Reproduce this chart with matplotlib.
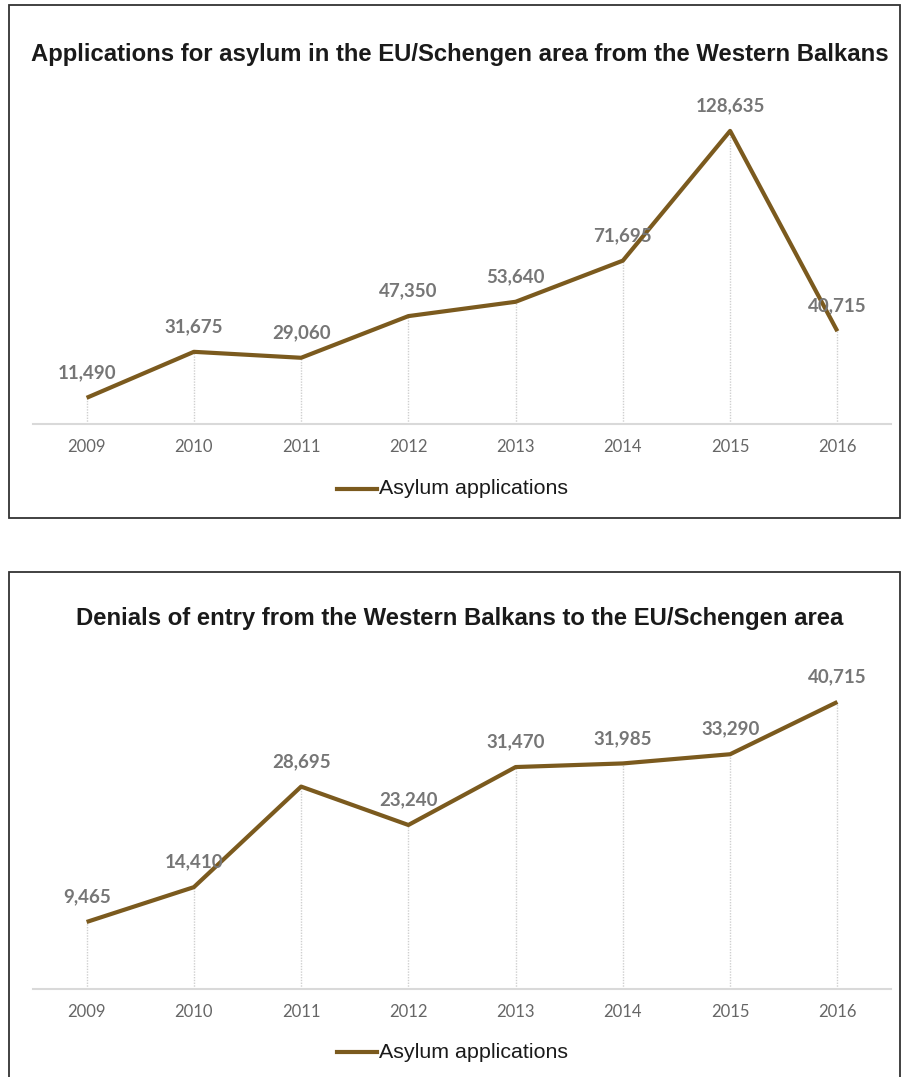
import matplotlib
matplotlib.use("Agg")
import matplotlib.pyplot as plt
from matplotlib.patches import Rectangle
from matplotlib.lines import Line2D

years = ["2009", "2010", "2011", "2012", "2013", "2014", "2015", "2016"]
asylum = [11490, 31675, 29060, 47350, 53640, 71695, 128635, 40715]
denials = [9465, 14410, 28695, 23240, 31470, 31985, 33290, 40715]
titles = ["Applications for asylum in the EU/Schengen area from the Western Balkans",
          "Denials of entry from the Western Balkans to the EU/Schengen area"]
legend_label = "Asylum applications"
ymaxes = [140000, 45000]

W, H = 901, 1077
fig = plt.figure(figsize=(W / 100, H / 100), dpi=100)

LINE = "#7B5A1E"
GRID = "#D9D9D9"
LBL = "#767676"
TICK = "#666666"

def fx(px):
    return px / W

def fy(py):
    return 1 - py / H

panels = [
    dict(data=asylum, title=titles[0], box=(8.5, 4.5, 900, 517.5), base=424, top=105,
         title_y=55, tick_y=447, leg_y=489),
    dict(data=denials, title=titles[1], box=(8.5, 572.3, 900, 1090), base=988.6, top=671.8,
         title_y=619, tick_y=1012, leg_y=1052),
]

for p, ymax in zip(panels, ymaxes):
    x0, y0, x1, y1 = p["box"]
    fig.patches.append(Rectangle((fx(x0), fy(y1)), fx(x1) - fx(x0), fy(y0) - fy(y1),
                                 transform=fig.transFigure, fill=False,
                                 edgecolor="#333333", linewidth=1.3))
    ax = fig.add_axes([fx(33), fy(p["base"]), fx(891) - fx(33), (p["base"] - p["top"]) / H])
    xs = list(range(len(years)))
    ax.set_xlim(-0.5, len(years) - 0.5)
    ax.set_ylim(0, ymax)
    vals = p["data"]
    ax.vlines(xs, 0, vals, colors="#CFCFCF", linestyles=(0, (1, 1)), linewidth=1, zorder=1)
    ax.plot(xs, vals, color=LINE, linewidth=3, solid_capstyle="butt", zorder=3)
    for x, v in zip(xs, vals):
        ax.annotate(f"{v:,}", (x, v), xytext=(0, 25), textcoords="offset pixels",
                    ha="center", va="center", fontsize=13.5, fontweight="bold",
                    color=LBL, family="Lato", zorder=4)
    for s in ["top", "right", "left"]:
        ax.spines[s].set_visible(False)
    ax.spines["bottom"].set_color(GRID)
    ax.spines["bottom"].set_linewidth(1.5)
    ax.set_yticks([])
    ax.set_xticks(xs)
    ax.set_xticklabels([])
    ax.tick_params(axis="x", length=0)
    ax.patch.set_alpha(0)
    for x, lab in zip(xs, years):
        fig.text(fx(33) + (x + 0.5) / len(years) * (fx(891) - fx(33)), fy(p["tick_y"]), lab,
                 ha="center", va="center", fontsize=12, color=TICK, family="Lato")
    fig.text(fx(460), fy(p["title_y"]), p["title"], ha="center", va="center",
             fontsize=17.2, fontweight="bold", color="#1a1a1a", family="Liberation Sans")
    # legend
    fig.lines.append(Line2D([fx(337), fx(377)], [fy(p["leg_y"]), fy(p["leg_y"])],
                            transform=fig.transFigure, color=LINE, linewidth=3))
    fig.text(fx(379), fy(p["leg_y"]), legend_label, ha="left", va="center",
             fontsize=15.4, color="#1a1a1a", family="Liberation Sans")

fig.savefig("out.png", dpi=100)
